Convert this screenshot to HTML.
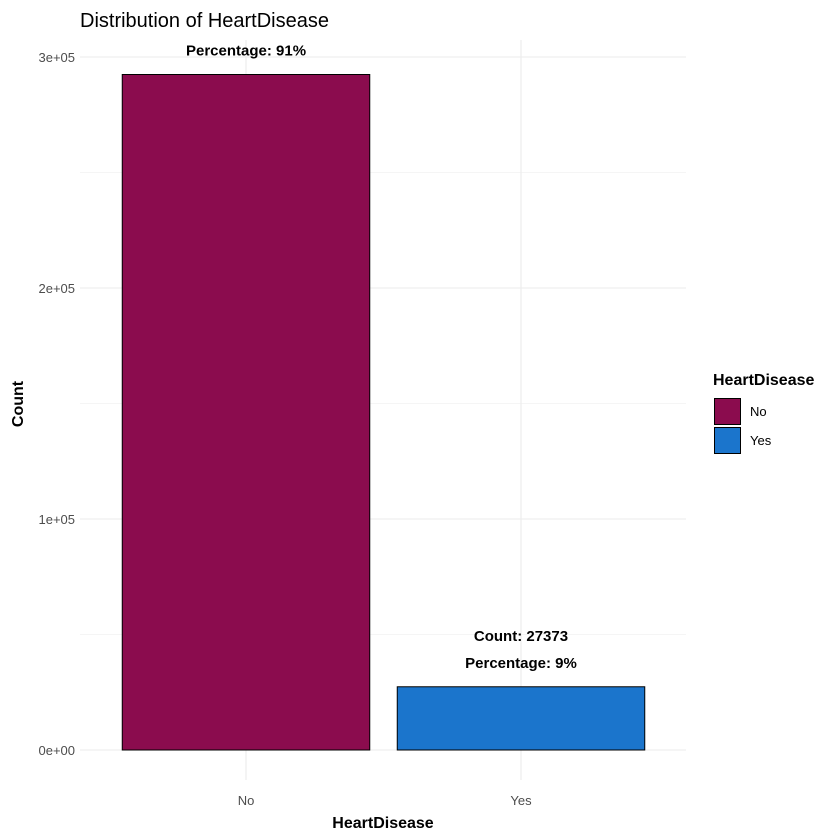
<!DOCTYPE html>
<html><head><meta charset="utf-8"><style>
body{margin:0;background:#fff}
svg{display:block;font-family:"Liberation Sans",sans-serif}
</style></head><body>
<svg id="chart" width="840" height="840">
<defs><clipPath id="panel"><rect x="80" y="38" width="606" height="760"/></clipPath></defs>
<text x="80" y="27" font-size="20" fill="#000">Distribution of HeartDisease</text>
<g id="grid"></g>
<g id="bars" clip-path="url(#panel)"></g>
<g id="yticks"></g>
<g id="xticks"></g>
<text x="383" y="828" font-size="16" font-weight="bold" text-anchor="middle" fill="#000">HeartDisease</text>
<text transform="translate(23,404) rotate(-90)" font-size="16" font-weight="bold" text-anchor="middle" fill="#000">Count</text>
<g>
<text x="713" y="385" font-size="16" font-weight="bold" fill="#000">HeartDisease</text>
<g id="legend-items"></g>
</g>
</svg>
<script>
const categories=["No","Yes"];
const counts=[292422,27373];
const percents=[91,9];
const colors=["#8B0C4E","#1B75CC"];
const yTicks=[0,100000,200000,300000];
const yTickLabels=["0e+00","1e+05","2e+05","3e+05"];
const NS="http://www.w3.org/2000/svg";
function y(v){return 750-v*231/100000;}
function xc(i){return 246+i*275;}
const bw=247.5;
function mk(t,a,p){const e=document.createElementNS(NS,t);for(const k in a)e.setAttribute(k,a[k]);p.appendChild(e);return e;}
const grid=document.getElementById('grid');
for(let v=0;v<=300000;v+=50000){const l=mk('line',{x1:80,x2:686,y1:y(v),y2:y(v),stroke:'#ebebeb','stroke-width':v%100000?0.6:1.1},grid);

}
categories.forEach((c,i)=>{const l=mk('line',{x1:xc(i),x2:xc(i),y1:40,y2:780,stroke:'#ebebeb','stroke-width':1.1},grid);

});
const yt=document.getElementById('yticks');
yTicks.forEach((v,i)=>{const t=mk('text',{x:75,y:y(v)+5,'font-size':13,'text-anchor':'end',fill:'#4d4d4d'},yt);t.textContent=yTickLabels[i];

});
const xt=document.getElementById('xticks');
categories.forEach((c,i)=>{const t=mk('text',{x:xc(i),y:805,'font-size':13,'text-anchor':'middle',fill:'#4d4d4d'},xt);t.textContent=c;

});
const bars=document.getElementById('bars');
categories.forEach((c,i)=>{
const r=mk('rect',{x:xc(i)-bw/2,y:y(counts[i]),width:bw,height:y(0)-y(counts[i]),fill:colors[i],stroke:'#000','stroke-width':1},bars);


const t1=mk('text',{x:xc(i),y:y(counts[i])-46,'font-size':15,'font-weight':'bold','text-anchor':'middle',fill:'#000'},bars);t1.textContent='Count: '+counts[i];


const t2=mk('text',{x:xc(i),y:y(counts[i])-19,'font-size':15,'font-weight':'bold','text-anchor':'middle',fill:'#000'},bars);t2.textContent='Percentage: '+percents[i]+'%';

});
const lg=document.getElementById('legend-items');
categories.forEach((c,i)=>{
const r=mk('rect',{x:714.5,y:398.5+i*29,width:26,height:26,fill:colors[i],stroke:'#000','stroke-width':1},lg);


const t=mk('text',{x:750,y:416+i*29,'font-size':13,fill:'#000'},lg);t.textContent=c;

});
</script>
</body></html>
